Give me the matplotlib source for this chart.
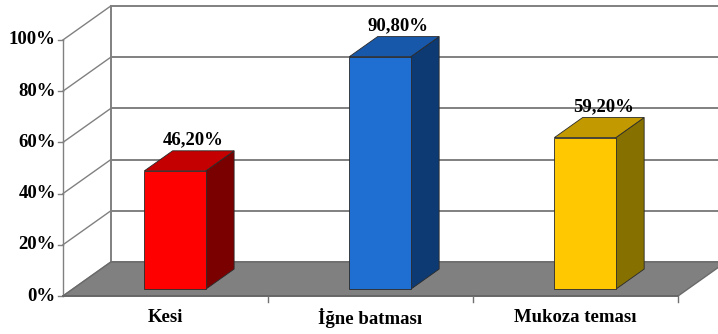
import numpy as np
import matplotlib.pyplot as plt
from matplotlib.patches import Polygon

plt.rcParams['font.family'] = ['Liberation Serif', 'DejaVu Serif']

categories = ['Kesi', 'İğne batması', 'Mukoza teması']
values = [46.2, 90.8, 59.2]
value_labels = ['46,20%', '90,80%', '59,20%']
yticks = [0, 20, 40, 60, 80, 100]
ytick_labels = ['0%', '20%', '40%', '60%', '80%', '100%']

front_colors = ['#ff0000', '#1f6fd2', '#ffc800']
side_colors = ['#7a0000', '#0d3a72', '#857000']
top_colors = ['#c40000', '#1858aa', '#c29a00']

# oblique projection: depth offset in data units
DX, DY = 0.234, 13.3


def proj(x, v, d):
    return (x + d * DX, v + d * DY)


fig = plt.figure(figsize=(7.18, 3.34), dpi=100)
ax = fig.add_axes([0, 0, 1, 1])
ax.set_xlim(-0.307, 3.195)
ax.set_ylim(-14.84, 115.6)
ax.axis('off')

n = len(categories)
grid = '#808080'
fs = 13.5

# back wall + left wall gridlines
for v, lab in zip(yticks, ytick_labels):
    x0, y0 = proj(0, v, 1)
    x1, y1 = proj(n + 0.3, v, 1)
    ax.plot([x0, x1], [y0, y1], color=grid, lw=1.4, zorder=1)
    fx, fy = proj(0, v, 0)
    ax.plot([fx, x0], [fy, y0], color=grid, lw=1.0, zorder=1)
    ax.plot([fx - 0.025, fx], [fy, fy], color=grid, lw=1.0, zorder=1)
    ax.text(fx - 0.035, fy, lab, ha='right', va='center',
            fontsize=fs, fontweight='bold')

bx, by = proj(0, 0, 1)
tx, ty = proj(0, 100, 1)
ax.plot([bx, tx], [by, ty], color=grid, lw=1.4, zorder=1)
ax.plot([0, 0], [0, 100], color=grid, lw=1.0, zorder=1)

# floor
floor = [proj(0, 0, 0), proj(n, 0, 0), proj(n, 0, 1), proj(0, 0, 1)]
ax.add_patch(Polygon(floor, closed=True, facecolor='#808080',
                     edgecolor='#6a6a6a', lw=1.0, zorder=2))
ax.plot([0, n], [0, 0], color='#666666', lw=1.3, zorder=3)
for i in range(1, n + 1):
    ax.plot([i, i], [0, -2.2], color='#707070', lw=1.0, zorder=3)

# bars
w = 0.30
d0, d1 = 0.2, 0.79
for i, (v, fc, sc, tc) in enumerate(zip(values, front_colors, side_colors, top_colors)):
    xl = i + 0.5 - w / 2
    xr = i + 0.5 + w / 2
    front = [proj(xl, 0, d0), proj(xr, 0, d0), proj(xr, v, d0), proj(xl, v, d0)]
    side = [proj(xr, 0, d0), proj(xr, 0, d1), proj(xr, v, d1), proj(xr, v, d0)]
    top = [proj(xl, v, d0), proj(xr, v, d0), proj(xr, v, d1), proj(xl, v, d1)]
    for poly, c in [(side, sc), (top, tc), (front, fc)]:
        ax.add_patch(Polygon(poly, closed=True, facecolor=c, edgecolor='#2a2a2a',
                             lw=0.6, zorder=4 + i))
    lx, ly = proj(i + 0.5, v, (d0 + d1) / 2)
    ax.text(lx + 0.02, ly + 5.0, value_labels[i], ha='center', va='bottom',
            fontsize=fs, fontweight='bold', zorder=10)
    ax.text(i + 0.5, -8.5, categories[i], ha='center', va='center',
            fontsize=fs, fontweight='bold')

plt.savefig('out.png', dpi=100)
